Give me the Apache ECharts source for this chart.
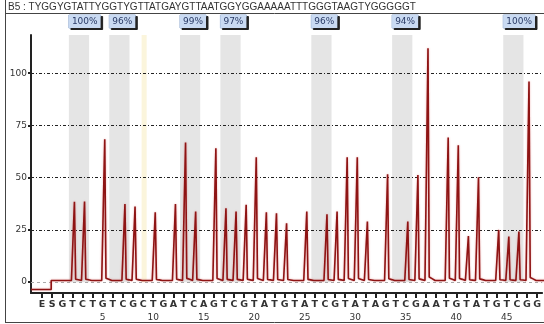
<!DOCTYPE html>
<html>
<head>
<meta charset="utf-8">
<script src="https://cdn.jsdelivr.net/npm/echarts@6/dist/echarts.min.js"></script>
<style>
html, body { margin: 0; padding: 0; background: #fff; }
#chart { width: 544px; height: 324px; }
</style>
</head>
<body>
<div id="chart"></div>
<script>
var assayTitle = 'B5 : TYGGYGTATTYGGTYGTTATGAYGTTAATGGYGGAAAAATTTGGGTAAGTYGGGGGT';

// dispensation order (E = enzyme, S = substrate, then nucleotides 1..48)
var dispensation = ['E','S','G','T','C','T','G','T','C','G',
                    'C','T','G','A','T','C','A','G','T','C',
                    'G','T','A','T','G','T','A','T','C','G',
                    'T','A','T','A','G','T','C','G','A','A',
                    'T','G','T','A','T','G','T','C','G','G'];

// peak height for each dispensation
var peakHeights = [0, 0, 0, 38.5, 38.6, 0, 68.4, 0, 37.4, 36.2,
                   0, 33.4, 0, 37.4, 66.8, 33.8, 0, 64.1, 35.4, 33.8,
                   37.0, 59.8, 33.4, 33.0, 28.2, 0, 33.8, 0, 32.5, 33.8,
                   59.8, 59.8, 29.0, 0, 51.6, 0, 29.0, 51.3, 112, 0,
                   69.2, 65.5, 22.1, 50.2, 0, 25.0, 21.8, 24.2, 96.0, 0];

// CpG sites: first dispensation of each shaded pair and its methylation %
var cpgStart = [3, 7, 14, 18, 27, 35, 46];
var methylation = [100, 96, 99, 97, 96, 94, 100];
var bisulfiteCtrl = [10];

var yTicks = [0, 25, 50, 75, 100];
var baseES = -3.5;
var baseRest = 0.8;

var xMin = -1.1, xMax = 49.5;
var yMin = -5.2, yMax = 118.3;

var chart = echarts.init(document.getElementById('chart'));

// trace: one thin spike per dispensation
var trace = [[xMin, baseES]];
dispensation.forEach(function (d, k) {
    var b = k === 0 ? baseES : baseRest;
    var h = peakHeights[k];
    trace.push([k - 0.1, b]);
    if (h > 0) {
        trace.push([k + 0.08, b], [k + 0.2, h], [k + 0.32, b + h * 0.015], [k + 0.6, b + h * 0.008]);
    }
    trace.push([k + 0.9, b]);
});

var bands = cpgStart.map(function (k, i) {
    return [{
        xAxis: k - 0.35, yAxis: 0,
        label: {
            show: true,
            formatter: methylation[i] + '%',
            position: [0, -20],
            fontSize: 9,
            lineHeight: 10,
            color: '#2a3b66',
            fontFamily: 'DejaVu Sans',
            backgroundColor: '#c9daf2',
            borderColor: '#8fa9cf',
            borderWidth: 0.5,
            padding: [2, 3, 1, 3],
            shadowColor: '#222',
            shadowOffsetX: 2,
            shadowOffsetY: 1.5,
            shadowBlur: 0
        }
    }, { xAxis: k + 1.65, yAxis: yMax }];
});
bisulfiteCtrl.forEach(function (k) {
    bands.push([{ xAxis: k - 0.15, yAxis: 0, itemStyle: { color: '#fbf5dc' } },
                { xAxis: k + 0.35, yAxis: yMax }]);
});

var gridLines = yTicks.filter(function (v) { return v > 0; }).map(function (v) {
    return { yAxis: v };
});

var ks = dispensation.map(function (d, k) { return k; });

var option = {
    animation: false,
    grid: { left: 31, right: 0, top: 35, bottom: 31 },
    graphic: [
        { type: 'line', shape: { x1: 5.5, y1: 0, x2: 5.5, y2: 323 }, style: { stroke: '#444', lineWidth: 1 } },
        { type: 'line', shape: { x1: 5, y1: 13.5, x2: 544, y2: 13.5 }, style: { stroke: '#444', lineWidth: 1 } },
        { type: 'line', shape: { x1: 5, y1: 322.5, x2: 544, y2: 322.5 }, style: { stroke: '#444', lineWidth: 1 } },
        {
            type: 'text', left: 8, top: 2,
            style: { text: assayTitle, fontSize: 10, fontFamily: 'Liberation Sans', fill: '#333' }
        }
    ],
    xAxis: {
        type: 'value',
        min: xMin,
        max: xMax,
        axisLine: { onZero: false, lineStyle: { color: '#222', width: 2 } },
        axisTick: { customValues: ks, length: 5, lineStyle: { color: '#222', width: 2 } },
        axisLabel: {
            customValues: ks,
            margin: 5,
            formatter: function (v) {
                var n = v - 1;
                var num = (n > 0 && n % 5 === 0) ? n : '';
                return '{l|' + dispensation[v] + '}\n{n|' + num + '}';
            },
            rich: {
                l: { fontSize: 9.5, lineHeight: 13, color: '#333', fontWeight: 'bold', fontFamily: 'DejaVu Sans' },
                n: { fontSize: 9, lineHeight: 14, color: '#333', fontFamily: 'DejaVu Sans' }
            }
        },
        splitLine: { show: false }
    },
    yAxis: {
        type: 'value',
        min: yMin,
        max: yMax,
        axisLine: { show: true, onZero: false, lineStyle: { color: '#222', width: 2 } },
        axisTick: { show: true, customValues: yTicks, length: 3, lineStyle: { color: '#222', width: 2 } },
        axisLabel: { customValues: yTicks, fontSize: 9, color: '#333', margin: 4, fontFamily: 'DejaVu Sans' },
        splitLine: { show: false }
    },
    series: [
        {
            type: 'line',
            data: [],
            silent: true,
            markArea: {
                silent: true,
                z: 1,
                itemStyle: { color: '#e5e5e5' },
                data: bands
            },
            markLine: {
                silent: true,
                z: 2,
                symbol: ['none', 'none'],
                label: { show: false },
                lineStyle: { color: '#222', type: [3, 2, 1, 2], width: 1 },
                data: gridLines.concat([{ yAxis: 0, lineStyle: { color: '#aaa', type: [3, 3] } }])
            }
        },
        {
            type: 'line',
            data: trace,
            z: 5,
            showSymbol: false,
            silent: true,
            lineStyle: {
                color: '#8e1414',
                width: 1.6,
                shadowColor: 'rgba(210,60,60,0.45)',
                shadowBlur: 2
            }
        }
    ]
};

chart.setOption(option);
</script>
</body>
</html>
